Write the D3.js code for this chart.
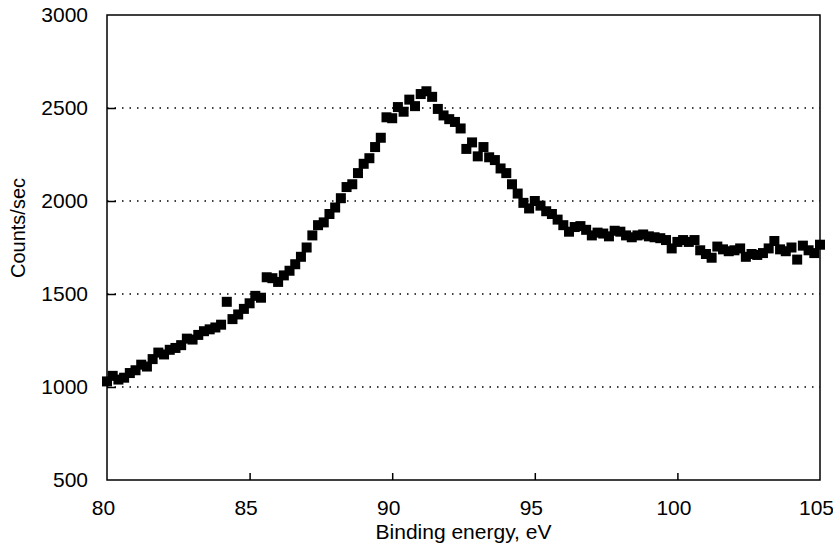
<!DOCTYPE html>
<html>
<head>
<meta charset="utf-8">
<script src="https://cdn.jsdelivr.net/npm/d3@7"></script>
<style>
html,body{margin:0;padding:0;background:#fff;}
svg{display:block;font-family:"Liberation Sans",Arial,Helvetica,sans-serif;}
</style>
</head>
<body>
<svg id="chart" width="833" height="548"></svg>
<script>
const energy = [80.0,80.2,80.4,80.6,80.8,81.0,81.2,81.4,81.6,81.8,82.0,82.2,82.4,82.6,82.8,83.0,83.2,83.4,83.6,83.8,84.0,84.2,84.4,84.6,84.8,85.0,85.2,85.4,85.6,85.8,86.0,86.2,86.4,86.6,86.8,87.0,87.2,87.4,87.6,87.8,88.0,88.2,88.4,88.6,88.8,89.0,89.2,89.4,89.6,89.8,90.0,90.2,90.4,90.6,90.8,91.0,91.2,91.4,91.6,91.8,92.0,92.2,92.4,92.6,92.8,93.0,93.2,93.4,93.6,93.8,94.0,94.2,94.4,94.6,94.8,95.0,95.2,95.4,95.6,95.8,96.0,96.2,96.4,96.6,96.8,97.0,97.2,97.4,97.6,97.8,98.0,98.2,98.4,98.6,98.8,99.0,99.2,99.4,99.6,99.8,100.0,100.2,100.4,100.6,100.8,101.0,101.2,101.4,101.6,101.8,102.0,102.2,102.4,102.6,102.8,103.0,103.2,103.4,103.6,103.8,104.0,104.2,104.4,104.6,104.8,105.0];
const counts = [1030,1060,1040,1050,1075,1090,1120,1110,1150,1185,1175,1200,1210,1225,1260,1255,1280,1300,1310,1320,1335,1458,1365,1390,1420,1450,1490,1480,1590,1585,1565,1600,1625,1660,1700,1750,1815,1870,1885,1930,1965,2015,2075,2090,2150,2200,2230,2290,2340,2450,2445,2505,2480,2545,2510,2575,2590,2560,2495,2460,2440,2425,2390,2280,2315,2240,2290,2235,2220,2175,2150,2090,2040,1990,1960,2000,1975,1945,1930,1900,1870,1835,1860,1865,1845,1815,1830,1825,1810,1840,1835,1815,1805,1815,1820,1810,1805,1800,1790,1745,1780,1790,1780,1790,1735,1715,1695,1755,1740,1730,1735,1745,1700,1715,1710,1720,1745,1785,1740,1730,1750,1685,1760,1735,1720,1765];
const xTicks = [80,85,90,95,100,105];
const yTicks = [500,1000,1500,2000,2500,3000];
const gridValues = [1000,1500,2000,2500];
const xLabel = "Binding energy, eV";
const yLabel = "Counts/sec";

const W = 833, H = 548;
const m = {left:107, right:13, top:15, bottom:68};
const svg = d3.select("#chart");
const x = d3.scaleLinear().domain([80,105]).range([m.left, W - m.right]);
const y = d3.scaleLinear().domain([500,3000]).range([H - m.bottom, m.top]);

// grid
svg.append("g").selectAll("line").data(gridValues).join("line")
  .attr("x1", x(80)).attr("x2", x(105))
  .attr("y1", d => y(d)).attr("y2", d => y(d))
  .attr("stroke", "#000").attr("stroke-width", 1.5)
  .attr("stroke-dasharray", "1.5,6");

// axes
const fs = 21;
const xAxis = svg.append("g").attr("transform", `translate(0,${y(500)})`)
  .call(d3.axisBottom(x).tickValues(xTicks).tickFormat(d3.format("d"))
    .tickSizeInner(-7).tickSizeOuter(0).tickPadding(20));
const yAxis = svg.append("g").attr("transform", `translate(${x(80)},0)`)
  .call(d3.axisLeft(y).tickValues(yTicks).tickFormat(d3.format("d"))
    .tickSizeInner(-9).tickSizeOuter(0).tickPadding(19));
[xAxis, yAxis].forEach(a => {
  a.select(".domain").remove();
  a.selectAll("line").attr("stroke", "#000").attr("stroke-width", 1.5);
  a.selectAll("text").attr("font-size", fs).attr("fill", "#000")
   .attr("font-family", '"Liberation Sans",Arial,sans-serif');
});
xAxis.selectAll("text").attr("dx", -4).attr("dy", "0.71em");
yAxis.selectAll("line").filter(d => d === 3000 || d === 500).remove();
xAxis.selectAll("line").filter(d => d === 80 || d === 105).remove();

// frame
svg.append("rect")
  .attr("x", x(80)).attr("y", y(3000))
  .attr("width", x(105) - x(80)).attr("height", y(500) - y(3000))
  .attr("fill", "none").attr("stroke", "#000").attr("stroke-width", 1.5);

// markers
const s = 10;
svg.append("g").selectAll("rect").data(energy.map((e,i) => [e, counts[i]])).join("rect")
  .attr("x", d => x(d[0]) - s/2).attr("y", d => y(d[1]) - s/2)
  .attr("width", s).attr("height", s).attr("fill", "#000");

// labels
svg.append("text").attr("x", (x(80)+x(105))/2).attr("y", 539)
  .attr("text-anchor", "middle").attr("font-size", fs).text(xLabel);
svg.append("text").attr("transform", `translate(25,228) rotate(-90)`)
  .attr("text-anchor", "middle").attr("font-size", 20).text(yLabel);
</script>
</body>
</html>
